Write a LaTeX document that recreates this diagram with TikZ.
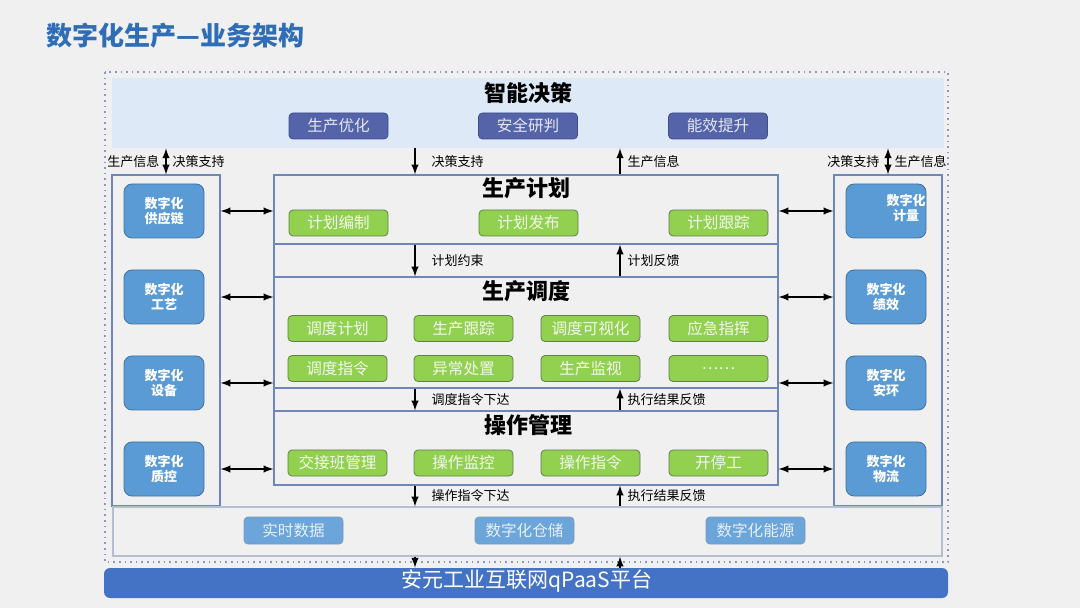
\documentclass[tikz,border=0pt]{standalone}
\usepackage{fontspec}
\setmainfont{Noto Sans CJK SC}
\usetikzlibrary{fit}

\definecolor{fondo}{HTML}{F0F0F0}
\definecolor{titulo}{HTML}{2F6EB5}
\definecolor{banda}{HTML}{DDE9F6}
\definecolor{marco}{HTML}{6F86B8}
\definecolor{punteado}{HTML}{8A98BC}
\definecolor{oscuro}{HTML}{5563A8}
\definecolor{oscuroborde}{HTML}{3F4E8E}
\definecolor{verde}{HTML}{92D050}
\definecolor{verdeborde}{HTML}{62804A}
\definecolor{azul}{HTML}{5B9BD5}
\definecolor{azulborde}{HTML}{41719C}
\definecolor{datoborde}{HTML}{B4BFD2}
\definecolor{plataforma}{HTML}{4472C4}

\begin{document}
\begin{tikzpicture}[x=0.5pt, y=-0.5pt, >=latex,
	marcobox/.style={draw=marco, line width=0.6pt, inner sep=0pt},
	seccion/.style={font=\bfseries\fontsize{11}{12}\selectfont},
	etiqueta/.style={font=\fontsize{6.5}{7}\selectfont, inner sep=0pt},
	flecha/.style={line width=0.7pt},
	decision/.style={draw=oscuroborde, fill=oscuro, rounded corners=2pt, text=white!85!oscuro,
		minimum width=49.5pt, minimum height=13pt, inner sep=0pt, font=\fontsize{7.8}{8}\selectfont},
	tarea/.style={draw=verdeborde, fill=verde, rounded corners=2pt, text=white!88!verde,
		minimum width=49.5pt, minimum height=13pt, inner sep=0pt, font=\fontsize{7.8}{8}\selectfont},
	lateral/.style={draw=azulborde, fill=azul, rounded corners=4pt, text=white, align=center,
		minimum width=40pt, minimum height=27pt, inner sep=0pt, font=\bfseries\fontsize{6.5}{7.5}\selectfont},
	dato/.style={draw=azulborde!70, fill=azul!90, rounded corners=2pt, text=white!85!azul,
		minimum width=49.5pt, minimum height=13.5pt, inner sep=0pt, font=\fontsize{7.8}{8}\selectfont}]
	
	% Fondo y título
	\fill[fondo] (0,0) rectangle (1080,608);
	\useasboundingbox (0,0) rectangle (1080,608);
	\node[anchor=west, inner sep=0pt, text=titulo, font=\bfseries\fontsize{13}{14}\selectfont] (tit) at (46,36) {数字化生产—业务架构};
	
	% Marco punteado exterior
	\draw[punteado, dotted, line width=0.8pt] (105,72) rectangle (948,562);
	
	% Banda superior: 智能决策
	\node[fill=banda, inner sep=0pt, fit={(112,78) (944,148)}] (band) {};
	\node[seccion] (tband) at (528,93) {智能决策};
	\node[decision] (opt) at (338.5,126) {生产优化};
	\node[decision] (seg) at (528,126) {安全研判};
	\node[decision] (ene) at (718,126) {能效提升};
	
	% Columnas laterales
	\node[marcobox, fit={(112,175) (220,506)}] (lcol) {};
	\node[marcobox, fit={(834,175) (942,506)}] (rcol) {};
	\node[lateral] (sup) at (164,211) {数字化\\供应链};
	\node[lateral] (art) at (164,297) {数字化\\工艺};
	\node[lateral] (equ) at (164,383) {数字化\\设备};
	\node[lateral] (cal) at (164,469) {数字化\\质控};
	\node[lateral] (med) at (886,211) {};
	\node[font=\bfseries\fontsize{6.5}{7.5}\selectfont, text=white, align=center, inner sep=0pt] (tmed) at (906,208) {数字化\\计量};
	\node[lateral] (ren) at (886,297) {数字化\\绩效};
	\node[lateral] (amb) at (886,383) {数字化\\安环};
	\node[lateral] (log) at (886,469) {数字化\\物流};
	
	% Columna central: 生产计划
	\node[marcobox, fit={(274,175) (778,244)}] (plan) {};
	\node[seccion] (tplan) at (526,188) {生产计划};
	\node[tarea] (p1) at (338.5,223) {计划编制};
	\node[tarea] (p2) at (528.5,223) {计划发布};
	\node[tarea] (p3) at (718.5,223) {计划跟踪};
	\node[marcobox, fit={(274,244) (778,277)}] (fr1) {};
	
	% Columna central: 生产调度
	\node[marcobox, fit={(274,277) (778,388)}] (disp) {};
	\node[seccion] (tdisp) at (526,291) {生产调度};
	\node[tarea] (d1) at (337.5,328.5) {调度计划};
	\node[tarea] (d2) at (463.5,328.5) {生产跟踪};
	\node[tarea] (d3) at (590.5,328.5) {调度可视化};
	\node[tarea] (d4) at (718.5,328.5) {应急指挥};
	\node[tarea] (d5) at (337.5,368.5) {调度指令};
	\node[tarea] (d6) at (463.5,368.5) {异常处置};
	\node[tarea] (d7) at (590.5,368.5) {生产监视};
	\node[tarea] (d8) at (718.5,368.5) {……};
	\node[marcobox, fit={(274,388) (778,411)}] (fr2) {};
	
	% Columna central: 操作管理
	\node[marcobox, fit={(274,411) (778,485)}] (oper) {};
	\node[seccion] (toper) at (528,425) {操作管理};
	\node[tarea] (o1) at (337.5,463) {交接班管理};
	\node[tarea] (o2) at (463.5,463) {操作监控};
	\node[tarea] (o3) at (590.5,463) {操作指令};
	\node[tarea] (o4) at (718.5,463) {开停工};
	
	% Datos
	\node[draw=datoborde, line width=0.6pt, inner sep=0pt, fit={(113,507) (942,556)}] (data) {};
	\node[dato] (rt) at (293.5,530.5) {实时数据};
	\node[dato] (alm) at (524.5,530.5) {数字化仓储};
	\node[dato] (enr) at (755.5,530.5) {数字化能源};
	
	% Plataforma
	\node[fill=plataforma, rounded corners=3pt, inner sep=0pt, fit={(104,568) (948,598)}] (bar) {};
	\node[text=white, font=\fontsize{10.5}{11}\selectfont] (tbar) at (527,581) {安元工业互联网qPaaS平台};
	
	% Flechas verticales
	\coordinate (xa) at (415,0);
	\coordinate (xb) at (620,0);
	\draw[<->, flecha] (band.south -| lcol) -- (lcol.north)
		node[midway, left=3pt, etiqueta] {生产信息} node[midway, right=3pt, etiqueta] {决策支持};
	\draw[<->, flecha] (band.south -| rcol) -- (rcol.north)
		node[midway, left=4pt, etiqueta] {决策支持} node[midway, right=3pt, etiqueta] {生产信息};
	\draw[->, flecha] (band.south -| xa) -- (plan.north -| xa) node[midway, right=8pt, etiqueta] {决策支持};
	\draw[->, flecha] (plan.north -| xb) -- (band.south -| xb) node[midway, right=3.5pt, etiqueta] {生产信息};
	\draw[->, flecha] (plan.south -| xa) -- (disp.north -| xa) node[midway, right=8pt, etiqueta] {计划约束};
	\draw[->, flecha] (disp.north -| xb) -- (plan.south -| xb) node[midway, right=3.5pt, etiqueta] {计划反馈};
	\draw[->, flecha] (disp.south -| xa) -- (oper.north -| xa) node[midway, right=8pt, etiqueta] {调度指令下达};
	\draw[->, flecha] (oper.north -| xb) -- (disp.south -| xb) node[midway, right=3.5pt, etiqueta] {执行结果反馈};
	\draw[->, flecha] (oper.south -| xa) -- (data.north -| xa) node[midway, right=8pt, etiqueta] {操作指令下达};
	\draw[->, flecha] (data.north -| xb) -- (oper.south -| xb) node[midway, right=3.5pt, etiqueta] {执行结果反馈};
	\draw[->, flecha] (data.south -| xa) -- (bar.north -| xa);
	\draw[->, flecha] (bar.north -| xb) -- (data.south -| xb);
	
	% Flechas horizontales
	\draw[<->, flecha] (lcol.east |- sup) -- (plan.west |- sup);
	\draw[<->, flecha] (lcol.east |- art) -- (disp.west |- art);
	\draw[<->, flecha] (lcol.east |- equ) -- (disp.west |- equ);
	\draw[<->, flecha] (lcol.east |- cal) -- (oper.west |- cal);
	\draw[<->, flecha] (plan.east |- med) -- (rcol.west |- med);
	\draw[<->, flecha] (disp.east |- ren) -- (rcol.west |- ren);
	\draw[<->, flecha] (disp.east |- amb) -- (rcol.west |- amb);
	\draw[<->, flecha] (oper.east |- log) -- (rcol.west |- log);
\end{tikzpicture}
\end{document}
